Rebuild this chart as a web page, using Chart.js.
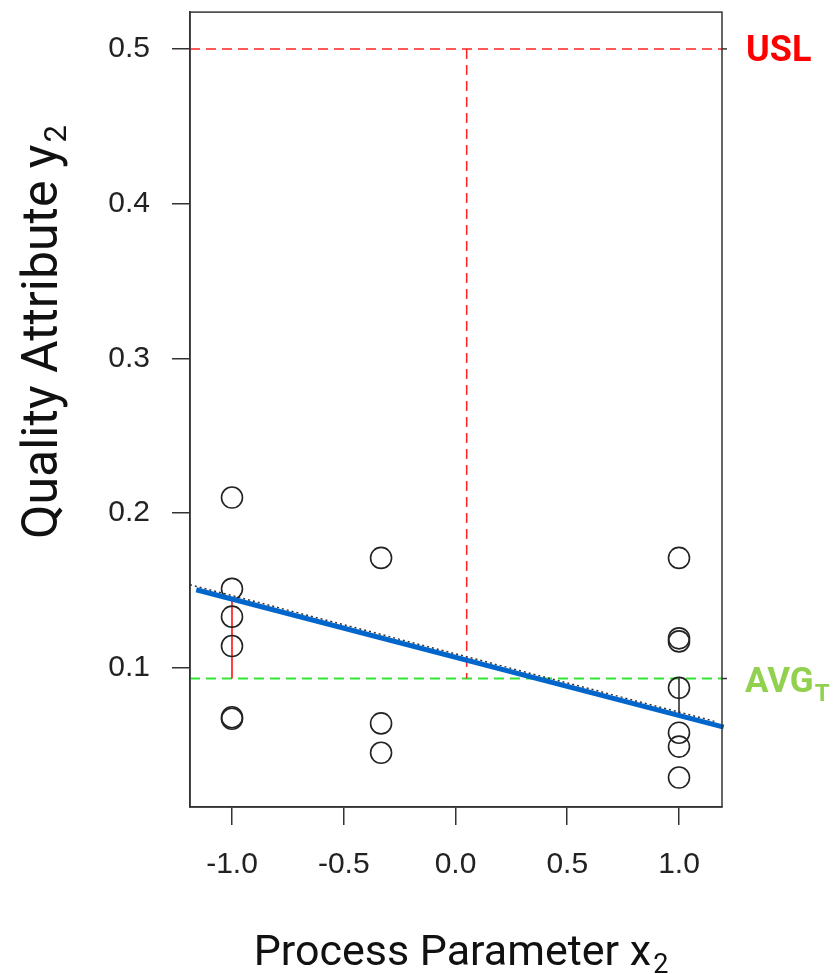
<!DOCTYPE html>
<html>
<head>
<meta charset="utf-8">
<script src="https://cdn.jsdelivr.net/npm/chart.js@4/dist/chart.umd.min.js"></script>
<style>
  html, body { margin: 0; padding: 0; background: #ffffff; }
  #wrap { width: 838px; height: 974px; }
</style>
</head>
<body>
<div id="wrap"><canvas id="c" width="838" height="974"></canvas></div>
<script>
// Observed runs: process parameter x2 (coded) and quality attribute y2
const paramX = [-1, -1, -1, -1, -1, -1, -0.333, -0.333, -0.333, 1, 1, 1, 1, 1, 1, 1];
const attrY  = [0.210, 0.151, 0.133, 0.114, 0.068, 0.067, 0.171, 0.064, 0.045, 0.171, 0.119, 0.117, 0.087, 0.058, 0.049, 0.029];

// Fitted regression line (end points) and the dotted reference fit
const fitX = [-1.16, 1.20];
const fitY = [0.1504, 0.0616];
const refX = [-1.188, 1.17];
const refY = [0.1537, 0.0649];

// Specification limit, target average and the chosen setting
const usl = 0.5;
const avgT = 0.093;
const xOpt = 0.05;

// Deviations of the fit from the target average at the design edges
const devLowX = -1,  devLowY = 0.1444;
const devHighX = 1,  devHighY = 0.0691;

// Axis ranges and ticks
const xRange = [-1.1879, 1.1924];
const yRange = [0.00997, 0.5238];
const xTicks = [-1, -0.5, 0, 0.5, 1];
const xTickLabels = ['-1.0', '-0.5', '0.0', '0.5', '1.0'];
const yTicks = [0.1, 0.2, 0.3, 0.4, 0.5];
const yTickLabels = ['0.1', '0.2', '0.3', '0.4', '0.5'];

const pts = (xs, ys) => xs.map((x, i) => ({ x: x, y: ys[i] }));

function drawWithSub(ctx, main, sub, font, subFont, subDrop) {
  ctx.font = font;
  const w1 = ctx.measureText(main).width;
  ctx.font = subFont;
  const w2 = ctx.measureText(sub).width;
  const start = -(w1 + w2 + 2) / 2;
  ctx.textAlign = 'left';
  ctx.textBaseline = 'alphabetic';
  ctx.font = font;
  ctx.fillText(main, start, 0);
  ctx.font = subFont;
  ctx.fillText(sub, start + w1 + 2, subDrop);
}

const decorations = {
  id: 'decorations',
  afterDraw(chart) {
    const ctx = chart.ctx;
    const a = chart.chartArea;
    const ys = chart.scales.y;
    ctx.save();
    // plot frame
    ctx.strokeStyle = '#333';
    ctx.lineWidth = 1.5;
    ctx.strokeRect(a.left, a.top, a.right - a.left, a.bottom - a.top);
    // short ticks on the right side for the limit lines
    [usl, avgT].forEach(v => {
      const py = ys.getPixelForValue(v);
      ctx.beginPath();
      ctx.moveTo(a.right, py);
      ctx.lineTo(a.right + 5, py);
      ctx.stroke();
    });
    // USL label
    ctx.fillStyle = '#FF0000';
    ctx.font = 'bold 36px Roboto';
    ctx.textAlign = 'left';
    ctx.textBaseline = 'alphabetic';
    ctx.fillText('USL', 746, ys.getPixelForValue(usl) + 12);
    // AVG_T label
    ctx.fillStyle = '#92D050';
    ctx.font = 'bold 35px Roboto';
    const avgBase = ys.getPixelForValue(avgT) + 13;
    ctx.fillText('AVG', 745, avgBase);
    const wAvg = ctx.measureText('AVG').width;
    ctx.font = 'bold 24px Roboto';
    ctx.fillText('T', 745 + wAvg + 1, avgBase + 9);
    // axis titles
    ctx.fillStyle = '#111';
    ctx.save();
    ctx.translate(461, 965);
    drawWithSub(ctx, 'Process Parameter x', '2', '43px Roboto', '27px Roboto', 8);
    ctx.restore();
    ctx.save();
    ctx.translate(57, 332);
    ctx.rotate(-Math.PI / 2);
    drawWithSub(ctx, 'Quality Attribute y', '2', '50px Roboto', '31px Roboto', 9);
    ctx.restore();
    ctx.restore();
  }
};

const tickFont = { family: "'Liberation Sans', Arial, sans-serif", size: 30 };

new Chart(document.getElementById('c').getContext('2d'), {
  type: 'scatter',
  data: {
    datasets: [
      { label: 'Fit', data: pts(fitX, fitY), showLine: true, borderColor: '#0066CC', borderWidth: 5,
        pointRadius: 0, order: 0, clip: false },
      { label: 'Reference fit', data: pts(refX, refY), showLine: true, borderColor: '#333', borderWidth: 1.5,
        borderDash: [2, 3], pointRadius: 0, order: 1 },
      { label: 'Observations', data: pts(paramX, attrY), showLine: false, pointRadius: 10.5,
        pointBorderColor: '#222', pointBorderWidth: 1.6, pointBackgroundColor: 'rgba(0,0,0,0)', order: 2 },
      { label: 'Deviation low', data: pts([devLowX, devLowX], [avgT, devLowY]), showLine: true,
        borderColor: '#FF0000', borderWidth: 1.5, pointRadius: 0, order: 3 },
      { label: 'Deviation high', data: pts([devHighX, devHighX], [avgT, devHighY]), showLine: true,
        borderColor: '#222', borderWidth: 1.5, pointRadius: 0, order: 3 },
      { label: 'Setting', data: pts([xOpt, xOpt], [usl, avgT]), showLine: true,
        borderColor: '#FF2020', borderWidth: 1.5, borderDash: [10, 6], pointRadius: 0, order: 4 },
      { label: 'USL', data: pts(xRange, [usl, usl]), showLine: true,
        borderColor: '#FF2020', borderWidth: 1.5, borderDash: [10, 6], pointRadius: 0, order: 4 },
      { label: 'AVG', data: pts(xRange, [avgT, avgT]), showLine: true,
        borderColor: '#33E633', borderWidth: 2, borderDash: [10, 6], pointRadius: 0, order: 4 }
    ]
  },
  options: {
    responsive: false,
    animation: false,
    devicePixelRatio: 1,
    layout: { padding: { left: 0, right: 116, top: 8, bottom: 0 } },
    plugins: { legend: { display: false }, tooltip: { enabled: false } },
    scales: {
      x: {
        type: 'linear', min: xRange[0], max: xRange[1],
        afterBuildTicks: s => { s.ticks = xTicks.map(v => ({ value: v })); },
        afterFit: s => { s.height = 167; s.paddingLeft = 0; s.paddingRight = 0; },
        grid: { display: true, drawOnChartArea: false, drawTicks: true, tickLength: 18, color: '#333', lineWidth: 1.5 },
        border: { display: true, color: '#333', width: 1.5 },
        ticks: { padding: 22, font: tickFont, color: '#222', maxRotation: 0,
          callback: (v, i) => xTickLabels[i] }
      },
      y: {
        type: 'linear', min: yRange[0], max: yRange[1],
        afterBuildTicks: s => { s.ticks = yTicks.map(v => ({ value: v })); },
        afterFit: s => { s.width = 190; s.paddingTop = 0; s.paddingBottom = 0; },
        grid: { display: true, drawOnChartArea: false, drawTicks: true, tickLength: 18, color: '#333', lineWidth: 1.5 },
        border: { display: true, color: '#333', width: 1.5 },
        ticks: { padding: 22, font: tickFont, color: '#222',
          callback: (v, i) => yTickLabels[i] }
      }
    }
  },
  plugins: [decorations]
});
</script>
</body>
</html>
